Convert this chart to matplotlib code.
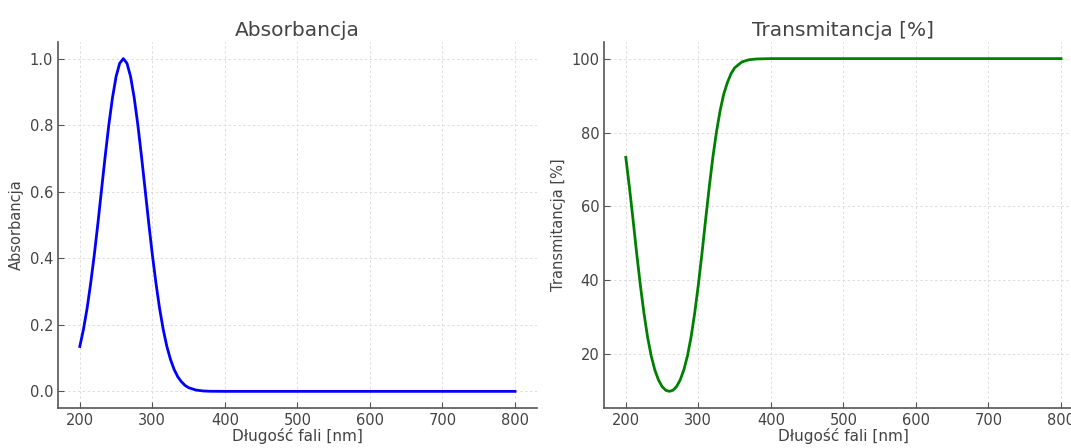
import matplotlib
matplotlib.use("Agg")
import matplotlib.pyplot as plt

# wavelengths [nm] and values
wavelength = [200, 205, 210, 215, 220, 225, 230, 235, 240, 245, 250, 255, 260,
              265, 270, 275, 280, 285, 290, 295, 300, 305, 310, 315, 320, 325,
              330, 335, 340, 345, 350, 360, 370, 380, 400, 500, 600, 700, 800]
absorbance = [0.135, 0.186, 0.249, 0.325, 0.411, 0.506, 0.607, 0.707, 0.801,
              0.882, 0.946, 0.986, 1.000, 0.986, 0.946, 0.882, 0.801, 0.707,
              0.607, 0.506, 0.411, 0.325, 0.249, 0.186, 0.135, 0.096, 0.066,
              0.044, 0.029, 0.018, 0.011, 0.004, 0.0012, 0.0003, 0.0, 0.0,
              0.0, 0.0, 0.0]
transmittance = [73.3, 65.2, 56.4, 47.3, 38.8, 31.2, 24.7, 19.6, 15.8, 13.1,
                 11.3, 10.3, 10.0, 10.3, 11.3, 13.1, 15.8, 19.6, 24.7, 31.2,
                 38.8, 47.3, 56.4, 65.2, 73.3, 80.2, 85.9, 90.4, 93.5, 95.9,
                 97.5, 99.1, 99.7, 99.9, 100.0, 100.0, 100.0, 100.0, 100.0]

text_c = "#444444"
plt.rcParams["font.family"] = "DejaVu Sans"

fig = plt.figure(figsize=(10.71, 4.48), dpi=100)
ax1 = fig.add_axes([0.0542, 0.0893, 0.447, 0.817])
ax2 = fig.add_axes([0.564, 0.0893, 0.447, 0.817])


def style(ax, title, ylabel):
    ax.set_title(title, fontsize=14.5, color=text_c, pad=4)
    ax.set_xlabel("Długość fali [nm]", fontsize=11, color=text_c, labelpad=0)
    ax.set_ylabel(ylabel, fontsize=10.5, color=text_c, labelpad=4)
    ax.grid(True, linestyle=(0, (2.5, 2.5)), color="#dddddd", linewidth=0.7)
    ax.set_axisbelow(True)
    for s in ["top", "right"]:
        ax.spines[s].set_visible(False)
    for s in ["left", "bottom"]:
        ax.spines[s].set_color("#555555")
        ax.spines[s].set_linewidth(1.2)
    ax.tick_params(direction="in", length=4, color="#555555",
                   labelcolor=text_c, labelsize=10.5)
    ax.set_xticks([200, 300, 400, 500, 600, 700, 800])


ax1.plot(wavelength, absorbance, color="blue", linewidth=2)
style(ax1, "Absorbancja", "Absorbancja")

ax2.plot(wavelength, transmittance, color="green", linewidth=2)
style(ax2, "Transmitancja [%]", "Transmitancja [%]")
ax2.set_yticks([20, 40, 60, 80, 100])

plt.savefig("out.png", dpi=100)
